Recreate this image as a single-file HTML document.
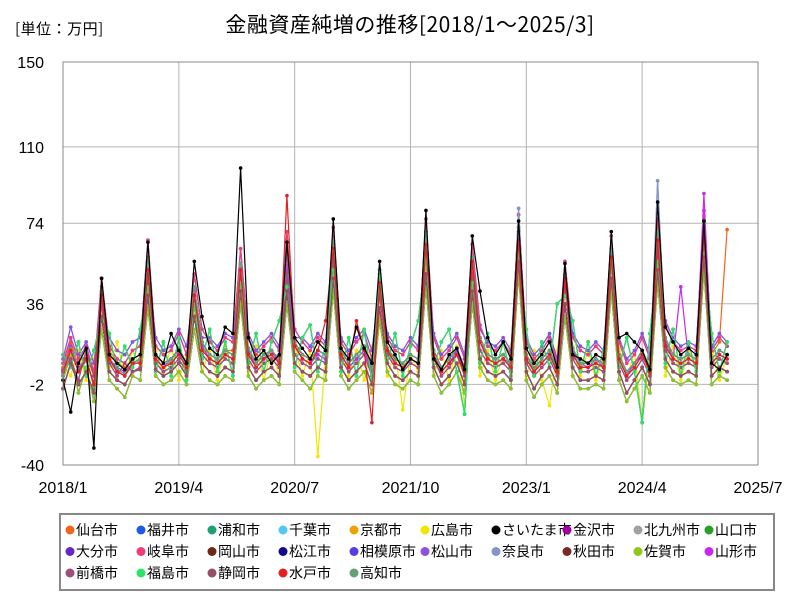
<!DOCTYPE html>
<html><head><meta charset="utf-8"><style>
body{margin:0;background:#fff;}
svg{display:block;font-family:"Liberation Sans","Noto Sans CJK JP",sans-serif;}
.cjk{font-family:"Noto Sans CJK JP","Liberation Sans",sans-serif;}
</style></head><body>
<svg id="chart" width="800" height="600">
<text x="15" y="34" font-size="15" class="cjk" letter-spacing="0.5" fill="#000">[単位：万円]</text>
<text x="410" y="32" font-size="21" class="cjk" letter-spacing="0.5" text-anchor="middle" fill="#000">金融資産純増の推移[2018/1～2025/3]</text>
<g id="grid"></g><g id="series"></g><g id="axes"></g>
<rect x="60" y="514" width="714" height="76" fill="#fff" stroke="#888" stroke-width="2"/>
<g id="legend"></g>
</svg>
<script>
const yTicks=[150,110,74,36,-2,-40];
const xTickLabels=["2018/1","2019/4","2020/7","2021/10","2023/1","2024/4","2025/7"];
const names=["仙台市","福井市","浦和市","千葉市","京都市","広島市","さいたま市","金沢市","北九州市","山口市","大分市","岐阜市","岡山市","松江市","相模原市","松山市","奈良市","秋田市","佐賀市","山形市","前橋市","福島市","静岡市","水戸市","高知市"];
const colors=["#f0641e","#1e5ae6","#1ea078","#50c8f0","#f0a000","#f0e600","#000000","#a000a0","#a0a0a0","#28a028","#6428c8","#f03c78","#6e2814","#140a8c","#5a3cdc","#8c50dc","#8296c8","#782828","#8cc81e","#c828f0","#a05078","#28e664","#965064","#e61e1e","#64a078"];
const sA=[2,15,5,10,-3,42,10,5,3,8,10,58, 12,8,10,15,8,44,18,12,10,14,12,55, 15,8,12,14,10,62,18,12,10,14,12,66, 14,8,12,16,6,44,15,10,8,12,10,70, 14,6,10,15,6,58,20,12,10,12,8,72, 12,5,10,14,5,50,15,8,8,10,8,62, 12,4,8,14,6,70,20,12,10,12,10,74, 10,14,12];
const sB=[5,10,0,14,2,36,8,2,8,4,6,48, 8,4,6,10,4,38,12,8,6,10,8,50, 10,4,8,10,6,50,12,8,6,10,8,58, 10,4,8,12,2,40,12,6,4,8,6,60, 10,2,6,12,2,50,14,8,6,8,4,64, 8,2,6,10,2,44,10,4,4,6,4,56, 8,0,4,10,2,60,14,8,6,8,6,66, 6,10,8];
const sC=[-4,8,-2,4,-6,30,4,0,-2,4,5,40, 5,2,4,8,2,30,8,4,2,6,4,42, 6,0,4,6,2,42,8,4,2,6,4,48, 6,0,4,8,-2,34,8,2,0,4,2,50, 6,-2,2,8,-2,42,10,4,2,4,0,56, 4,-4,2,6,-2,36,6,0,0,2,0,48, 4,-6,0,6,-2,52,10,4,2,4,2,58, 2,6,4];
const sD=[8,20,10,16,4,48,16,10,8,14,16,66, 16,12,14,22,12,50,24,18,14,20,18,62, 20,12,16,20,14,70,24,18,14,20,16,72, 18,12,18,22,10,50,20,14,12,18,14,76, 20,10,14,20,10,64,26,16,14,18,12,78, 18,10,14,20,8,56,20,14,12,16,12,68, 18,8,12,20,10,76,26,18,14,16,14,80, 14,20,16];
const sE=[0,12,-6,6,-10,24,0,-4,-8,2,0,34, 2,-2,0,4,-2,24,4,0,-2,2,0,36, 2,-4,0,2,-2,36,4,0,-4,2,0,42, 2,-4,0,4,-6,28,4,-2,-4,0,-2,44, 2,-6,-2,4,-6,36,6,0,-2,0,-4,50, 0,-8,-2,2,-6,30,2,-4,-4,-2,-4,42, 0,-10,-4,2,-6,46,6,0,-2,0,-2,52, -2,2,0];
const sF=[10,25,12,18,8,38,20,14,12,18,20,54, 20,14,16,24,16,42,20,20,16,22,20,48, 22,14,18,22,16,52,20,20,16,22,18,56, 20,14,20,24,14,42,22,16,14,20,16,62, 22,12,16,22,12,50,24,18,16,20,14,66, 20,12,16,22,10,46,22,16,14,18,14,58, 20,10,14,22,12,62,28,20,16,18,16,68, 16,22,18];
const sG=[12,6,18,2,14,30,22,4,16,6,24,44, 4,18,2,20,0,36,10,24,4,18,2,46, 8,22,4,18,28,44,6,20,26,4,16,52, 4,20,2,24,0,52,8,22,2,16,28,58, 6,18,24,4,-16,46,8,22,4,18,2,60, 24,2,18,6,36,40,28,4,18,2,14,54, 6,20,4,-20,22,56,8,24,2,18,4,60, 22,4,18];
const sBlack=[0,-15,8,15,-32,48,12,8,5,10,12,65, 12,8,22,14,8,56,30,15,12,25,22,100, 20,10,14,8,12,65,20,15,10,18,14,76, 15,10,25,15,8,56,18,12,5,10,8,80, 10,5,12,15,5,68,42,20,12,18,10,75, 15,8,12,18,6,55,12,10,8,12,10,70, 20,22,18,14,5,84,25,18,12,15,12,75, 8,5,12];
const sRed=[4,14,4,10,-2,40,10,4,2,8,8,52, 10,6,8,12,6,40,14,10,8,12,10,52, 12,6,10,12,8,87,16,10,8,14,28,62, 12,6,28,14,-20,46,14,8,6,10,8,64, 12,4,8,12,4,56,18,10,8,10,6,66, 10,4,8,12,4,48,12,6,6,8,6,58, 10,2,6,12,4,66,16,10,8,10,8,70, 8,12,10];
const sSendai=[6,18,8,12,2,44,14,8,6,10,12,54, 12,8,10,14,8,42,16,12,10,14,14,52, 14,8,12,14,10,58,16,12,10,14,12,62, 14,8,12,16,6,42,14,10,8,12,10,66, 14,6,10,14,6,56,18,12,10,12,8,70, 12,6,10,14,6,50,14,10,8,10,8,60, 12,4,8,14,6,68,18,12,10,12,10,72, 12,18,71];
const sNara=[3,14,4,9,-2,40,9,4,2,7,9,56, 10,6,8,13,6,42,16,10,8,12,10,54, 13,6,10,12,8,58,16,10,8,12,10,64, 12,6,10,14,4,42,13,8,6,10,8,68, 12,4,8,13,4,56,18,10,8,10,6,81, 10,4,8,12,4,48,13,6,6,8,6,60, 10,2,6,12,4,94,18,10,8,10,8,72, 8,12,10];
const sYamagata=[4,16,6,10,-2,40,10,6,4,8,10,56, 10,6,10,14,6,42,16,10,8,12,10,52, 14,6,10,14,8,58,16,10,8,12,10,64, 12,6,10,14,4,44,14,8,6,10,8,66, 12,4,8,14,4,56,18,10,8,10,8,70, 10,4,8,12,4,48,14,8,6,10,6,62, 10,2,8,12,4,66,18,10,44,10,8,88, 10,14,12];
const sHiro=[8,2,14,0,10,34,6,18,2,14,6,50, 14,2,16,0,12,32,4,14,0,16,2,40, 4,16,0,14,2,46,16,2,14,-36,12,54, 16,2,14,0,16,30,2,14,-14,12,4,56, 2,14,0,16,-12,40,2,14,0,12,16,62, 2,14,0,-12,14,42,16,2,14,0,12,58, 16,0,14,-20,12,72,2,16,0,14,4,64, 14,0,12];
const seriesValues=[sSendai,sD,sA,sF,sG,sHiro,sBlack,sA,sNara,sC,sB,sD,sC,sE,sG,sF,sNara,sC,sE,sYamagata,sB,sG,sC,sRed,sA];
const drawOrder=[0,1,2,3,4,5,7,8,9,10,11,12,13,14,15,16,17,18,19,20,21,22,24,23,6];
const x0=63,x1=758,y0=62,y1=465;
function xPos(m){return x0+(x1-x0)*m/90;}
function yPos(v){return y0+(y1-y0)*(150-v)/190;}
const NS="http://www.w3.org/2000/svg";
function mk(t,a,p){const e=document.createElementNS(NS,t);for(const k in a)e.setAttribute(k,a[k]);p.appendChild(e);return e;}
const grid=document.getElementById('grid'),axes=document.getElementById('axes'),ser=document.getElementById('series'),leg=document.getElementById('legend');
yTicks.forEach(v=>{const l=mk('line',{x1:x0,x2:x1,y1:yPos(v),y2:yPos(v),stroke:'#b4b4b4','stroke-width':1},grid);


const t=mk('text',{x:44,y:yPos(v)+6,'font-size':16,'text-anchor':'end',fill:'#000'},axes);t.textContent=v;

});
xTickLabels.forEach((s,i)=>{const x=xPos(i*15);const l=mk('line',{x1:x,x2:x,y1:y0,y2:y1,stroke:'#b4b4b4','stroke-width':1},grid);


const t=mk('text',{x:x,y:493,'font-size':16,'text-anchor':'middle',fill:'#000'},axes);t.textContent=s;

});
const fr=mk('rect',{x:x0,y:y0,width:x1-x0,height:y1-y0,fill:'none',stroke:'#888','stroke-width':1},axes);


drawOrder.forEach(i=>{const vals=seriesValues[i];const g=mk('g',{},ser);


const pts=vals.map((v,m)=>xPos(m).toFixed(1)+','+yPos(v).toFixed(1)).join(' ');
const pl=mk('polyline',{points:pts,fill:'none',stroke:colors[i],'stroke-width':1.2},g);


vals.forEach((v,m)=>{const c=mk('circle',{cx:xPos(m),cy:yPos(v),r:1.8,fill:colors[i]},g);

});});
names.forEach((n,i)=>{const r=Math.floor(i/10),c=i%10;const x=70+c*71,y=530+r*21.5;
const g=mk('g',{},leg);


mk('circle',{cx:x,cy:y,r:4.5,fill:colors[i]},g);
const t=mk('text',{x:x+6,y:y+5,'font-size':14,fill:'#000'},g);t.textContent=n;});
</script>
</body></html>
